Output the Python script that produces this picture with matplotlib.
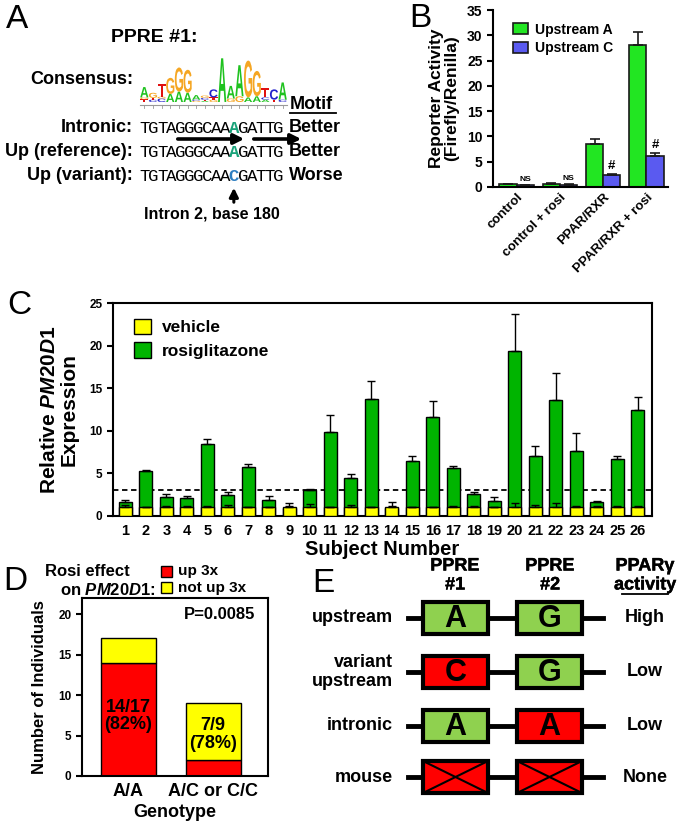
import numpy as np
import matplotlib
matplotlib.use("Agg")
import matplotlib.pyplot as plt
import matplotlib.patheffects as pe
from matplotlib.patches import Rectangle, PathPatch
from matplotlib.textpath import TextPath
from matplotlib.font_manager import FontProperties
from matplotlib.transforms import Affine2D

plt.rcParams['font.family'] = ['Liberation Sans', 'DejaVu Sans']
plt.rcParams['font.weight'] = 'bold'
plt.rcParams['axes.labelweight'] = 'bold'
plt.rcParams['mathtext.fontset'] = 'custom'
plt.rcParams['mathtext.it'] = 'Liberation Sans:italic:bold'
plt.rcParams['mathtext.rm'] = 'Liberation Sans:bold'
plt.rcParams['axes.linewidth'] = 1.5

W, H = 677, 823

# ---------------- data ----------------
# panel A: consensus logo, columns bottom -> top (letter, bits)
logo_columns = [
    [('T', 0.12), ('G', 0.08), ('A', 0.45)],
    [('C', 0.1), ('T', 0.08), ('G', 0.22)],
    [('C', 0.15), ('G', 0.08), ('T', 0.55)],
    [('A', 0.35), ('G', 0.7)],
    [('A', 0.45), ('G', 1.05)],
    [('A', 0.4), ('G', 1.0)],
    [('G', 0.05), ('C', 0.05), ('A', 0.2)],
    [('A', 0.05), ('T', 0.05), ('C', 0.08), ('G', 0.1)],
    [('G', 0.1), ('T', 0.1), ('C', 0.35)],
    [('A', 1.9)],
    [('G', 0.15), ('A', 0.55)],
    [('G', 0.25), ('A', 1.35)],
    [('A', 0.2), ('G', 1.6)],
    [('A', 0.25), ('G', 1.1)],
    [('A', 0.1), ('C', 0.1), ('T', 0.4)],
    [('T', 0.1), ('C', 0.45)],
    [('C', 0.1), ('A', 0.75)],
]
logo_colors = {'A': '#1FC21F', 'C': '#2222CC', 'G': '#F5A623', 'T': '#E01010'}
seq_labels = ["Intronic:", "Up (reference):", "Up (variant):"]
seq_rows = ["TGTAGGGCAAAGATTG", "TGTAGGGCAAAGATTG", "TGTAGGGCAACGATTG"]
seq_snp = 10
seq_snp_colors = ['#1AA37A', '#1AA37A', '#2E7FC1']
motif_calls = ["Better", "Better", "Worse"]

# panel B
b_conditions = ["control", "control + rosi", "PPAR/RXR", "PPAR/RXR + rosi"]
b_up_a = [0.5, 0.6, 8.5, 28.1]
b_up_a_err = [0.15, 0.1, 0.9, 2.6]
b_up_c = [0.35, 0.45, 2.3, 6.2]
b_up_c_err = [0.1, 0.1, 0.2, 0.6]
b_marks = ["NS", "NS", "#", "#"]

# panel C
subjects = list(range(1, 27))
vehicle = [1.0] * 26
vehicle_err = [0.3, 0.05, 0.2, 0.2, 0.2, 0.3, 0.1, 0.05, 0.2, 0.4, 0.1, 0.3, 0.1,
               0.2, 0.05, 0.05, 0.2, 0.2, 0.1, 0.5, 0.3, 0.5, 0.2, 0.2, 0.15, 0.2]
rosi = [1.7, 5.3, 2.2, 2.1, 8.4, 2.5, 5.8, 1.9, 0.9, 3.0, 9.9, 4.5, 13.7,
        0.9, 6.5, 11.6, 5.6, 2.6, 1.8, 19.4, 7.0, 13.6, 7.6, 1.7, 6.7, 12.5]
rosi_err = [0.2, 0.1, 0.4, 0.3, 0.6, 0.3, 0.25, 0.4, 0.6, 0.15, 1.9, 0.4, 2.2,
            0.7, 0.5, 1.9, 0.3, 0.2, 0.4, 4.3, 1.2, 3.2, 2.1, 0.1, 0.3, 1.5]
threshold = 3

# panel D
genotypes = ["A/A", "A/C or C/C"]
n_up = [14, 2]
n_not_up = [3, 7]
d_labels = ["14/17\n(82%)", "7/9\n(78%)"]
p_text = "P=0.0085"

# panel E
e_rows = ["upstream", "variant\nupstream", "intronic", "mouse"]
e_ppre1 = ["A", "C", "A", ""]
e_ppre2 = ["G", "G", "A", ""]
e_ok1 = [True, False, True, False]
e_ok2 = [True, True, False, False]
e_activity = ["High", "Low", "Low", "None"]
e_headers = [("PPRE", "#1"), ("PPRE", "#2"), ("PPARγ", "activity")]


def rect(x0, y0, x1, y1):
    return [x0 / W, 1 - y1 / H, (x1 - x0) / W, (y1 - y0) / H]


fig = plt.figure(figsize=(W / 100, H / 100), dpi=100)

# overlay in pixel coordinates for labels / diagrams
ov = fig.add_axes([0, 0, 1, 1], zorder=5)
ov.set_xlim(0, W)
ov.set_ylim(H, 0)
ov.axis('off')

for lab, x, y in [("A", 6, 4), ("B", 409, 3), ("C", 7, 290), ("D", 3, 566), ("E", 312, 568)]:
    ov.text(x, y, lab, fontsize=24, fontweight='normal', ha='left', va='top')

# ---------------- panel A ----------------
ov.text(154, 37, "PPRE #1:", fontsize=14, fontweight='bold', ha='center', va='center')
ov.text(133, 79, "Consensus:", fontsize=13, fontweight='bold', ha='right', va='center')

seq_x0, seq_x1 = 140, 283
logo_x1 = 287
logo_fp = FontProperties(family='Liberation Sans', weight='bold')
col_w = (logo_x1 - seq_x0) / len(logo_columns)
bit_px = 23
base_y = 102
for i, col in enumerate(logo_columns):
    y = base_y
    for ch, hgt in col:
        hp = hgt * bit_px
        tp = TextPath((0, 0), ch, size=1, prop=logo_fp)
        bb = tp.get_extents()
        tr = Affine2D().translate(-bb.x0, -bb.y0).scale(col_w * 0.95 / bb.width, -hp / bb.height)
        tr = tr.translate(seq_x0 + i * col_w + col_w * 0.025, y)
        ov.add_patch(PathPatch(tr.transform_path(tp), fc=logo_colors[ch], ec='none'))
        y -= hp
ov.plot([seq_x0, logo_x1], [105, 105], color='#999999', lw=0.8)
for i in range(len(logo_columns)):
    ov.plot([seq_x0 + (i + 0.5) * col_w] * 2, [105, 107.5], color='#999999', lw=0.6)

char_w = (seq_x1 - seq_x0) / 16
row_y = [127, 151, 175]
for r in range(3):
    ov.text(133, row_y[r], seq_labels[r], fontsize=13, fontweight='bold', ha='right', va='center')
    for i, ch in enumerate(seq_rows[r]):
        col = seq_snp_colors[r] if i == seq_snp else 'black'
        ov.text(seq_x0 + (i + 0.5) * char_w, row_y[r] + 1, ch, fontsize=12.5,
                family='Liberation Mono', fontweight='bold' if i == seq_snp else 'normal',
                color=col, ha='center', va='center')
    ov.text(289, row_y[r], motif_calls[r], fontsize=13, fontweight='bold', ha='left', va='center')
ov.text(290, 104, "Motif", fontsize=13, fontweight='bold', ha='left', va='center')
ov.plot([290, 336], [112.5, 112.5], color='black', lw=1.3)

ov.annotate('', xy=(247, 139), xytext=(175, 139),
            arrowprops=dict(arrowstyle='-|>', lw=2.6, color='black', mutation_scale=15))
ov.annotate('', xy=(304, 139), xytext=(251, 139),
            arrowprops=dict(arrowstyle='-|>', lw=2.6, color='black', mutation_scale=15))
snp_x = seq_x0 + (seq_snp + 0.5) * char_w
ov.annotate('', xy=(snp_x, 185), xytext=(snp_x, 205),
            arrowprops=dict(arrowstyle='-|>', lw=2.2, color='black', mutation_scale=13))
ov.text(snp_x - 22, 214, "Intron 2, base 180", fontsize=11.5, fontweight='bold', ha='center', va='center')

# ---------------- panel B ----------------
axb = fig.add_axes(rect(493, 10, 668, 187))
xb = np.arange(len(b_conditions))
bw = 0.4
zb = np.zeros(len(xb))
axb.bar(xb - bw / 2, b_up_a, bw, color='#22E622', edgecolor='#1a1a1a', lw=1.2, label='Upstream A', zorder=2)
axb.bar(xb + bw / 2, b_up_c, bw, color='#5A5AF0', edgecolor='#1a1a1a', lw=1.2, label='Upstream C', zorder=2)
axb.errorbar(xb - bw / 2, b_up_a, yerr=[zb, b_up_a_err], fmt='none', ecolor='#1a1a1a',
             capsize=3.5, elinewidth=1.2, capthick=1.2, zorder=3)
axb.errorbar(xb + bw / 2, b_up_c, yerr=[zb, b_up_c_err], fmt='none', ecolor='#1a1a1a',
             capsize=3.5, elinewidth=1.2, capthick=1.2, zorder=3)
for i, m in enumerate(b_marks):
    top = b_up_c[i] + b_up_c_err[i]
    axb.text(xb[i] + bw / 2, top + 0.4, m, fontsize=6 if m == "NS" else 9.5,
             fontweight='bold', ha='center', va='bottom')
axb.set_xlim(-0.55, 3.5)
axb.set_ylim(0, 35)
axb.set_yticks(range(0, 36, 5))
axb.spines['top'].set_visible(False)
axb.spines['right'].set_visible(False)
axb.tick_params(axis='y', labelsize=10, width=1.5, length=4)
axb.tick_params(axis='x', length=0, pad=3)
axb.set_xticks(xb)
axb.set_xticklabels(b_conditions, rotation=45, ha='right', rotation_mode='anchor',
                    fontsize=9.5, fontweight='bold')
axb.set_ylabel("Reporter Activity\n(Firefly/Renilla)", fontsize=12.5, labelpad=6, linespacing=1.0)
axb.legend(loc='upper left', bbox_to_anchor=(0.04, 1.0), frameon=False,
           prop={'size': 10, 'weight': 'bold'},
           handlelength=1.1, handleheight=0.9, labelspacing=0.35, handletextpad=0.5)

# ---------------- panel C ----------------
axc = fig.add_axes(rect(113, 303, 652, 516))
zc = np.zeros(len(subjects))
cw = 0.62
axc.axhline(threshold, color='black', lw=1.3, ls=(0, (3, 2)), zorder=1)
axc.bar(subjects, rosi, cw, color='#00B400', edgecolor='black', lw=1, zorder=2, label='rosiglitazone')
axc.errorbar(subjects, rosi, yerr=[zc, rosi_err], fmt='none', ecolor='black',
             capsize=3, elinewidth=1, capthick=1, zorder=2.5)
axc.bar(subjects, vehicle, cw, color='#FFFF00', edgecolor='black', lw=1, zorder=3, label='vehicle')
axc.errorbar(subjects, vehicle, yerr=[zc, vehicle_err], fmt='none', ecolor='black',
             capsize=3, elinewidth=1, capthick=1, zorder=3.5)
axc.set_xlim(0.4, 26.7)
axc.set_ylim(0, 25)
axc.set_yticks(range(0, 26, 5))
axc.set_xticks(subjects)
axc.tick_params(axis='y', labelsize=8.5, width=1.5, length=4)
axc.tick_params(axis='x', labelsize=10.5, length=0, pad=6)
axc.set_xlabel("Subject Number", fontsize=14.5, fontweight='bold', labelpad=1)
axc.set_ylabel("Relative $\\mathit{PM20D1}$\nExpression", fontsize=15, fontweight='bold',
               labelpad=8, linespacing=1.0)
hc, lc = axc.get_legend_handles_labels()
axc.legend(hc[::-1], lc[::-1], loc='upper left', bbox_to_anchor=(0.01, 1.0), frameon=False,
           prop={'size': 12.5, 'weight': 'bold'},
           handlelength=1.0, handleheight=1.0, labelspacing=0.4, handletextpad=0.6)

# ---------------- panel D ----------------
axd = fig.add_axes(rect(82, 598, 268, 776))
xd = np.arange(len(genotypes))
dw = 0.65
axd.bar(xd, n_up, dw, color='#FF0000', edgecolor='black', lw=1)
axd.bar(xd, n_not_up, dw, bottom=n_up, color='#FFFF00', edgecolor='black', lw=1)
axd.text(0, 7.4, d_labels[0], fontsize=13, fontweight='bold', ha='center', va='center', linespacing=1.05)
axd.text(1, 5.1, d_labels[1], fontsize=13, fontweight='bold', ha='center', va='center', linespacing=1.05)
axd.text(0.93, 0.91, p_text, transform=axd.transAxes, fontsize=12, fontweight='bold',
         ha='right', va='center')
axd.set_xlim(-0.55, 1.65)
axd.set_ylim(0, 22)
axd.set_yticks(range(0, 21, 5))
axd.set_xticks(xd)
axd.set_xticklabels(genotypes, fontsize=13, fontweight='bold')
axd.tick_params(axis='y', labelsize=8.5, width=1.5, length=4)
axd.tick_params(axis='x', length=0, pad=5)
axd.set_xlabel("Genotype", fontsize=13, fontweight='bold', labelpad=3)
axd.set_ylabel("Number of Individuals", fontsize=12, fontweight='bold', labelpad=8)

ov.text(45, 571, "Rosi effect", fontsize=12, fontweight='bold', ha='left', va='center')
ov.text(60, 590, "on $\\mathit{PM20D1}$:", fontsize=12, fontweight='bold', ha='left', va='center')
ov.add_patch(Rectangle((161, 566), 11, 11, fc='#FF0000', ec='black', lw=1))
ov.add_patch(Rectangle((161, 582), 11, 11, fc='#FFFF00', ec='black', lw=1))
ov.text(178, 571, "up 3x", fontsize=11, fontweight='bold', ha='left', va='center')
ov.text(178, 588, "not up 3x", fontsize=11, fontweight='bold', ha='left', va='center')

# ---------------- panel E ----------------
firm = [pe.withStroke(linewidth=0.3, foreground='black')]
for hx, (l1, l2) in zip([455, 550, 645], e_headers):
    ov.text(hx, 566, l1, fontsize=13, fontweight='bold', ha='center', va='center', path_effects=firm)
    ov.text(hx, 585, l2, fontsize=13, fontweight='bold', ha='center', va='center', path_effects=firm)
ov.plot([622, 668], [594, 594], color='black', lw=1.3)
e_y = [618, 672, 726, 777]
for r in range(4):
    y = e_y[r]
    ov.text(393, y, e_rows[r], fontsize=13, fontweight='bold', ha='right', va='center', linespacing=1.1)
    ov.plot([408, 603], [y, y], color='black', lw=3.5, zorder=1)
    for bx, ok, letter in [(423, e_ok1[r], e_ppre1[r]), (517, e_ok2[r], e_ppre2[r])]:
        ov.add_patch(Rectangle((bx, y - 16), 65, 32, fc='#8FD14F' if ok else '#FF0000',
                               ec='black', lw=3, zorder=2))
        if letter:
            ov.text(bx + 32.5, y + 1, letter, fontsize=22, fontweight='bold',
                    ha='center', va='center', zorder=3)
        else:
            ov.plot([bx, bx + 65], [y - 16, y + 16], color='black', lw=1.5, zorder=3)
            ov.plot([bx, bx + 65], [y + 16, y - 16], color='black', lw=1.5, zorder=3)
    ov.text(645, y, e_activity[r], fontsize=13, fontweight='bold', ha='center', va='center')

fig.savefig("out.png", dpi=100)
